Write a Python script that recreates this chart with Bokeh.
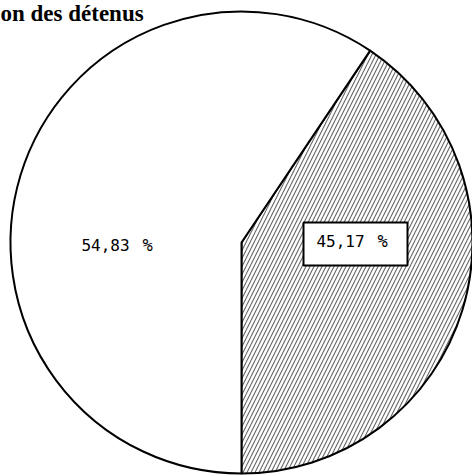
import math
from bokeh.plotting import figure
from bokeh.models import Range1d, ColumnDataSource
from bokeh.core.properties import value
from bokeh.embed import file_html
from bokeh.resources import INLINE

# ---- data ----
categories = ["hachuré", "blanc"]
label_values = [45.17, 54.83]          # printed percentages
drawn_shares = [40.6, 59.4]            # angular shares as actually drawn in the scan
title_text = "on des détenus"

W, H = 472, 475
p = figure(width=W, height=H, output_backend="svg", toolbar_location=None,
           x_range=Range1d(0, W), y_range=Range1d(0, H),
           min_border=0, outline_line_color=None)
p.axis.visible = False
p.grid.visible = False
p.background_fill_color = "white"
p.border_fill_color = "white"

def iy(img_y):
    return H - img_y

cx, cy, r = 241, iy(242), 231

# wedges: start at bottom (-90 deg), hatched slice first, anticlockwise
starts, ends = [], []
a = -math.pi / 2
for s in drawn_shares:
    starts.append(a)
    a += 2 * math.pi * s / sum(drawn_shares)
    ends.append(a)

src = ColumnDataSource(dict(cat=categories, start=starts, end=ends,
                            hatch=["/", " "]))
p.wedge(x=cx, y=cy, radius=r, start_angle="start", end_angle="end",
        source=src, fill_color="white", line_color="black", line_width=2,
        hatch_pattern="hatch", hatch_scale=8, hatch_weight=1.1,
        hatch_color="black", hatch_alpha=0.6)

# label box for the hatched slice
p.quad(left=303, right=407, top=iy(222), bottom=iy(265),
       fill_color="white", line_color="black", line_width=2)

nums = [f"{v:.2f}".replace(".", ",") for v in label_values]
p.text(x=[340, 105], y=[iy(240), iy(244)], text=nums,
       text_font=value("DejaVu Sans Mono"), text_font_size="16px",
       text_align="center", text_baseline="middle", text_color="black")
p.text(x=[382, 147], y=[iy(240), iy(244)], text=["%", "%"],
       text_font=value("DejaVu Sans Mono"), text_font_size="17px",
       text_align="center", text_baseline="middle", text_color="black")

p.text(x=[0], y=[iy(0)], text=[title_text],
       text_font=value("Liberation Serif"), text_font_style="bold",
       text_font_size="23px", text_align="left", text_baseline="top",
       text_color="black")

open("out.html", "w").write(file_html(p, INLINE))
